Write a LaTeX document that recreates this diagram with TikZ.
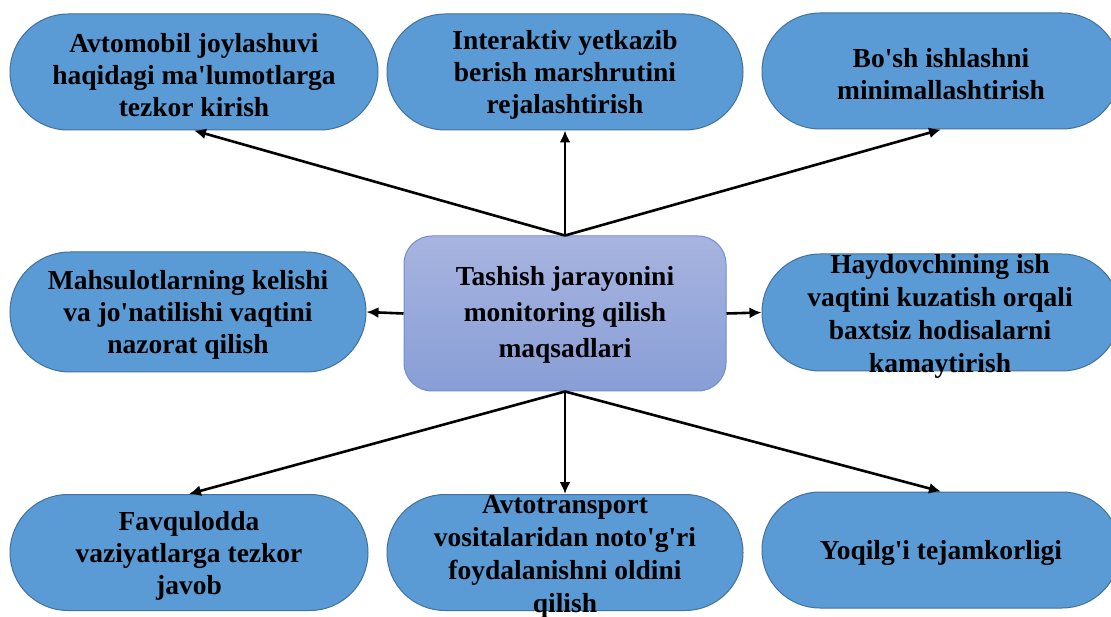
\documentclass[tikz,border=0pt]{standalone}
\usepackage{fontspec}
\setmainfont{Liberation Serif}[Ligatures=TeXOff]
\usetikzlibrary{arrows.meta}
\definecolor{pillfill}{RGB}{91,155,213}
\definecolor{pilledge}{RGB}{65,113,156}
\definecolor{ctop}{RGB}{168,180,224}
\definecolor{cbot}{RGB}{136,158,214}
\definecolor{cedge}{RGB}{112,142,212}
\tikzset{
  pill/.style={draw=pilledge, fill=pillfill, line width=1pt,
    minimum width=358pt, minimum height=116pt, rounded corners=58pt, inner sep=0pt},
  lbl/.style={align=center, font=\bfseries\fontsize{27.5}{32}\selectfont, inner sep=0pt, text=black},
  lblw/.style={lbl, font=\bfseries\fontsize{27.5}{33}\selectfont},
  centerbox/.style={draw=cedge, line width=1pt, top color=ctop, bottom color=cbot,
    minimum width=322pt, minimum height=155pt, rounded corners=28pt, inner sep=0pt},
  arr/.style={line width=2.6pt, -{Latex[length=12pt,width=11pt]}}
}
\begin{document}
\begin{tikzpicture}[x=1pt,y=-1pt]
\useasboundingbox (0,0) rectangle (1111,617);
\clip (0,0) rectangle (1111,617);
\fill[white] (0,0) rectangle (1111,617);
% top row
\node[pill, minimum width=368pt] (b1) at (194,72) {};
\node[lbl] (b1t) at (194,75) {Avtomobil joylashuvi\\haqidagi ma'lumotlarga\\tezkor kirish};
\node[pill, minimum width=356pt] (b2) at (565,72) {};
\node[lbl] (b2t) at (565,75) {Interaktiv yetkazib\\berish marshrutini\\rejalashtirish};
\node[pill] (b3) at (941,71) {};
\node[lbl] (b3t) at (941,74) {Bo'sh ishlashni\\minimallashtirish};
% middle row
\node[pill, minimum width=356pt, minimum height=120pt, rounded corners=60pt] (b4) at (188,312) {};
\node[lbl] (b4t) at (188,315) {Mahsulotlarning kelishi\\va jo'natilishi vaqtini\\nazorat qilish};
\node[centerbox] (c) at (565,313.5) {};
\node[lbl, font=\bfseries\fontsize{27.5}{36}\selectfont] (ct) at (565,315) {Tashish jarayonini\\monitoring qilish\\maqsadlari};
\node[pill, minimum height=117pt] (b6) at (941,312.5) {};
\node[lblw] (b6t) at (940,316) {Haydovchining ish\\vaqtini kuzatish orqali\\baxtsiz hodisalarni\\kamaytirish};
% bottom row
\node[pill] (b7) at (189,552.5) {};
\node[lbl] (b7t) at (189,556) {Favqulodda\\vaziyatlarga tezkor\\javob};
\node[pill, minimum width=356pt] (b8) at (565,552.5) {};
\node[lblw] (b8t) at (565,557) {Avtotransport\\vositalaridan noto'g'ri\\foydalanishni oldini\\qilish};
\node[pill] (b9) at (941,550) {};
\node[lbl] (b9t) at (941,553) {Yoqilg'i tejamkorligi};
% connectors
\draw[arr] (c.north) -- (b1.south);
\draw[arr] (c.north) -- (b2.south);
\draw[arr] (c.north) -- (b3.south);
\draw[arr] (c.west) -- (b4.east);
\draw[arr] (c.east) -- (b6.west);
\draw[arr] (c.south) -- (b7.north);
\draw[arr] (c.south) -- (b8.north);
\draw[arr] (c.south) -- (b9.north);
\end{tikzpicture}
\end{document}
